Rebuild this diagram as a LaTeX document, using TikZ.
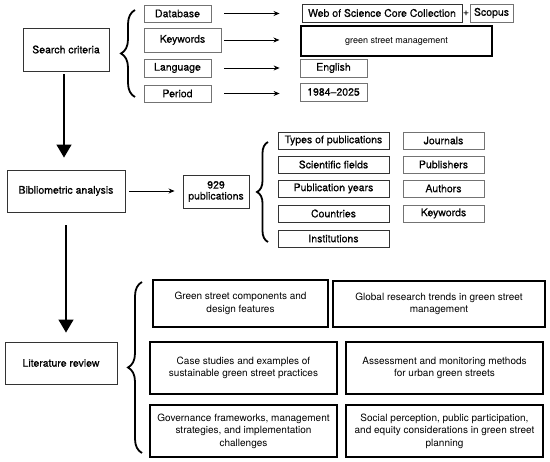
\documentclass[tikz,border=0pt]{standalone}
\usepackage{fontspec}
\setmainfont{TeX Gyre Heros}
\newfontfamily\medfont[FakeBold=0.5]{TeX Gyre Heros}
\usetikzlibrary{arrows.meta,decorations.pathreplacing}
\begin{document}
\begin{tikzpicture}[x=1pt,y=-1pt,
  every node/.style={inner sep=0pt, align=center},
  sbox/.style={draw=black!55, line width=0.8pt, font=\medfont\fontsize{10.5}{12}\selectfont},
  dbox/.style={draw=black!80, line width=0.9pt, font=\medfont\fontsize{10.5}{12}\selectfont},
  bigbox/.style={draw=black, line width=1.3pt, font=\fontsize{10}{12.5}\selectfont},
  harr/.style={line width=0.8pt, -{Stealth[length=6pt,width=5pt]}},
  varr/.style={line width=1.4pt, -{Triangle[length=13pt,width=15pt]}},
  curly/.style={line width=1.8pt, decorate, decoration={brace, amplitude=#1}},
]
\useasboundingbox (0,0) rectangle (550,462);
% Search criteria block
\node[dbox, minimum width=86pt, minimum height=43pt] (sc) at (66,49.5) {Search criteria};
\node[sbox, minimum width=67pt, minimum height=17pt] (db) at (177.5,13.5) {Database};
\node[sbox, minimum width=77pt, minimum height=24pt] (kw) at (182.5,40) {Keywords};
\node[sbox, minimum width=67pt, minimum height=18pt] (lang) at (177.5,68) {Language};
\node[sbox, minimum width=67pt, minimum height=17pt] (per) at (177.5,93.5) {Period};
\node[dbox, minimum width=160pt, minimum height=18pt] (wos) at (382,13) {Web of Science Core Collection};
\node[font=\medfont\fontsize{10}{12}\selectfont] (plus) at (466,13) {+};
\node[sbox, minimum width=43pt, minimum height=18pt] (scop) at (491.5,13) {Scopus};
\node[draw=black, line width=1.1pt, minimum width=191pt, minimum height=30pt, font=\fontsize{9}{11}\selectfont] (gsm) at (396.5,41) {green street management};
\node[sbox, minimum width=67pt, minimum height=18pt] (eng) at (333.5,68) {English};
\node[sbox, minimum width=67pt, minimum height=18pt] (yrs) at (333.5,92) {1984–2025};
\draw[curly=14pt] (135,97) -- (135,10);
\draw[harr, shorten <=13pt, shorten >=22pt] (db.east) -- (db.east -| wos.west);
\draw[harr, shorten <=3pt, shorten >=21pt] (kw.east) -- (kw.east -| gsm.west);
\draw[harr, shorten <=13pt, shorten >=20pt] (lang.east) -- (lang.east -| eng.west);
\draw[harr, shorten <=13pt, shorten >=20pt] (per.east) -- (per.east -| yrs.west);
% Bibliometric block
\node[dbox, minimum width=118pt, minimum height=42pt] (bib) at (66,191) {Bibliometric analysis};
\node[dbox, minimum width=66pt, minimum height=33pt, font=\medfont\fontsize{10.5}{11}\selectfont] (pubs) at (216,191.5) {929\\publications};
\draw[harr, shorten <=4pt, shorten >=8pt] (bib.east) -- (bib.east -| pubs.west);
\draw[curly=11pt] (268,242) -- (268,142);
\node[dbox, minimum width=111pt, minimum height=17pt] (types) at (333.5,140.5) {Types of publications};
\node[dbox, minimum width=111pt, minimum height=17pt] (sci) at (333.5,164.5) {Scientific fields};
\node[dbox, minimum width=111pt, minimum height=17pt] (pyears) at (333.5,188.5) {Publication years};
\node[dbox, minimum width=111pt, minimum height=17pt] (ctry) at (333.5,213.5) {Countries};
\node[dbox, minimum width=111pt, minimum height=17pt] (inst) at (333.5,238.5) {Institutions};
\node[sbox, minimum width=81pt, minimum height=17pt] (jour) at (443.5,140.5) {Journals};
\node[sbox, minimum width=81pt, minimum height=17pt] (publ) at (443.5,164.5) {Publishers};
\node[sbox, minimum width=81pt, minimum height=17pt] (auth) at (443.5,188.5) {Authors};
\node[sbox, minimum width=81pt, minimum height=17pt] (kw2) at (443.5,213.5) {Keywords};
% Literature review block
\node[dbox, minimum width=112pt, minimum height=42pt] (lit) at (61,363) {Literature review};
\draw[curly=14pt] (142,453) -- (142,282);
\node[bigbox, minimum width=175pt, minimum height=47pt] (b1) at (240.5,303.5) {Green street components and\\design features};
\node[bigbox, minimum width=187pt, minimum height=52pt] (b2) at (243.5,368) {Case studies and examples of\\sustainable green street practices};
\node[bigbox, minimum width=187pt, minimum height=52pt] (b3) at (243.5,431) {Governance frameworks, management\\strategies, and implementation\\challenges};
\node[bigbox, minimum width=212pt, minimum height=46pt] (b4) at (439,304) {Global research trends in green street\\management};
\node[bigbox, minimum width=197pt, minimum height=52pt] (b5) at (444.5,368) {Assessment and monitoring methods\\for urban green streets};
\node[bigbox, minimum width=197pt, minimum height=52pt] (b6) at (444.5,431) {Social perception, public participation,\\and equity considerations in green street\\planning};
% vertical flow arrows
\draw[varr, shorten <=3pt, shorten >=12pt] ([xshift=-2pt]sc.south) -- ([xshift=-2pt]sc.south |- bib.north);
\draw[varr, shorten <=13pt, shorten >=9pt] (bib.south) -- (bib.south |- lit.north);
\end{tikzpicture}
\end{document}
